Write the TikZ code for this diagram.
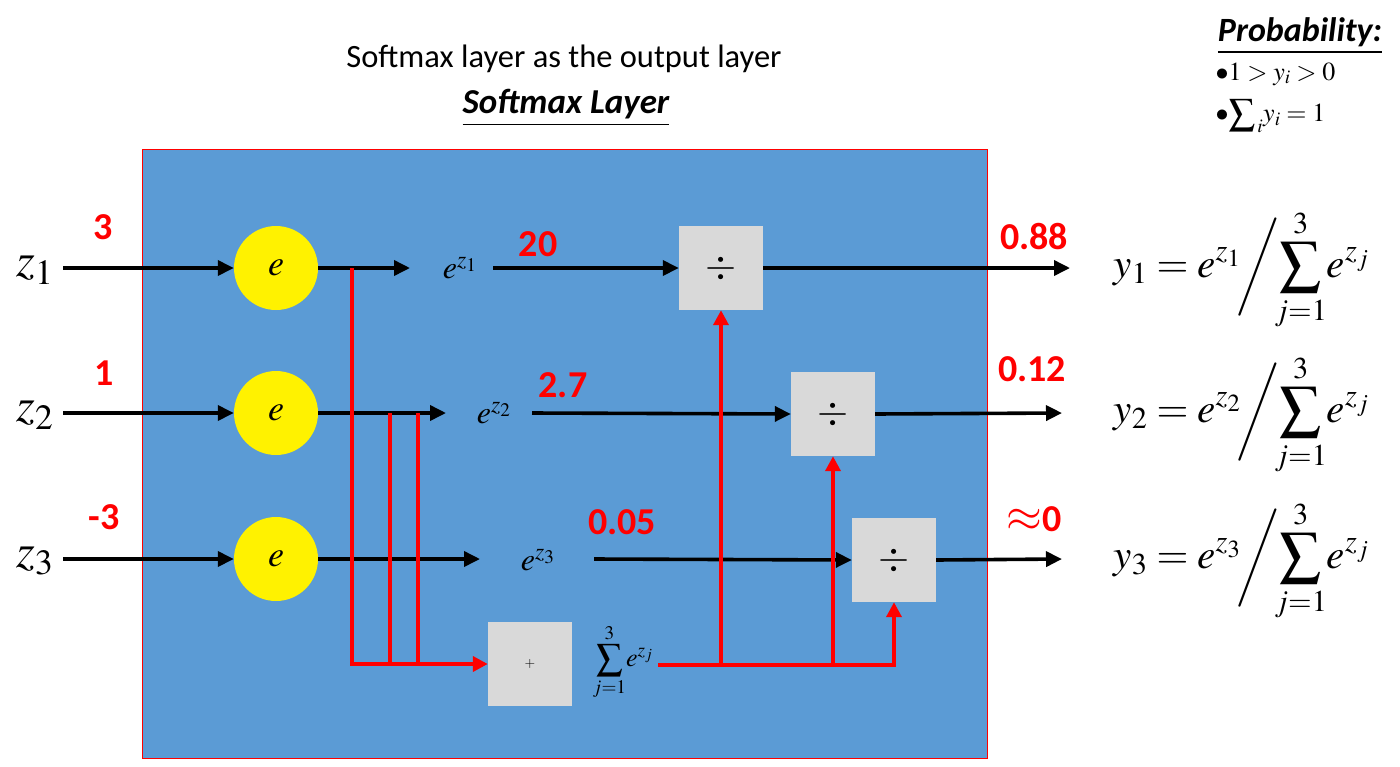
\documentclass[tikz,border=0pt]{standalone}
\usepackage{mathptmx}
\usepackage[no-math]{fontspec}
\newfontfamily\carlitofont{Carlito}
\usetikzlibrary{arrows.meta}
\definecolor{layerblue}{HTML}{5B9BD5}
\definecolor{boxgray}{HTML}{D9D9D9}
\definecolor{pured}{HTML}{FF0000}
\tikzset{
  blk/.style={line width=3.6pt,-{Triangle[length=16pt,width=15pt]}},
  rd/.style={draw=pured,line width=4pt},
  rda/.style={draw=pured,line width=4pt,-{Triangle[length=15pt,width=15pt]},color=pured},
  expnode/.style={circle,fill=yellow,minimum size=84pt,inner sep=0pt,font=\fontsize{36}{38}\selectfont},
  divbox/.style={rectangle,fill=boxgray,minimum size=84pt,inner sep=0pt,font=\fontsize{40}{40}\selectfont},
  num/.style={text=pured,font=\carlitofont\bfseries\fontsize{38}{40}\selectfont},
  zlab/.style={font=\fontsize{48}{50}\selectfont},
  elab/.style={font=\fontsize{32}{34}\selectfont},
  yform/.style={font=\fontsize{41}{44}\selectfont,anchor=west},
}
\begin{document}
\begin{tikzpicture}[x=1pt,y=-1pt]
\useasboundingbox (0,0) rectangle (1400,766);
% layer
\node[draw=pured,line width=1pt,fill=layerblue,minimum width=845pt,minimum height=609pt,inner sep=0pt] (layer) at (564.5,453.5) {};
% titles
\node[font=\carlitofont\fontsize{32.5}{34}\selectfont] (title) at (564,59) {Softmax layer as the output layer};
\node[font=\carlitofont\bfseries\itshape\fontsize{35}{38}\selectfont] (title2) at (566,108) {\underline{Softmax Layer}};
\node[font=\carlitofont\bfseries\itshape\fontsize{34}{36}\selectfont] (prob) at (1300,36) {\underline{Probability:}};
\node[font=\fontsize{26}{26}\selectfont,anchor=west] (b1) at (1212,74) {$\bullet 1>y_i>0$};
\node[font=\fontsize{26}{26}\selectfont,anchor=west] (b2) at (1212,116) {$\bullet {\displaystyle\sum\nolimits_{\,i}} y_i=1$};
% inputs
\node[zlab] (z1) at (35,270) {$z_1$};
\node[zlab] (z2) at (35,415) {$z_2$};
\node[zlab] (z3) at (35,561) {$z_3$};
\coordinate (in1) at (63,268);
\coordinate (in2) at (63,413);
\coordinate (in3) at (63,559);
\node[num] (n1) at (103,227) {3};
\node[num] (n2) at (104,373) {1};
\node[num] (n3) at (104,517) {-3};
% exp circles
\node[expnode] (c1) at (276,268) {$e$};
\node[expnode] (c2) at (276,413) {$e$};
\node[expnode] (c3) at (276,559) {$e$};
\draw[blk] (in1) -- (c1.west);
\draw[blk] (in2) -- (c2.west);
\draw[blk] (in3) -- (c3.west);
% exp outputs
\coordinate (t1) at (410,268);
\coordinate (t2) at (446,413);
\coordinate (t3) at (480,559);
\draw[blk] (c1.east) -- (t1);
\draw[blk] (c2.east) -- (t2);
\draw[blk] (c3.east) -- (t3);
\node[elab] (ez1) at (460,268) {$e^{z_1}$};
\node[elab] (ez2) at (494,413) {$e^{z_2}$};
\node[elab] (ez3) at (538,560) {$e^{z_3}$};
% divide boxes
\node[divbox] (d1) at (721,268) {$\div$};
\node[divbox] (d2) at (833,414) {$\div$};
\node[divbox] (d3) at (894,560) {$\div$};
\coordinate (f1) at (493,268);
\coordinate (f2) at (532,413);
\coordinate (f3) at (594,559);
\draw[blk] (f1) -- (d1.west);
\draw[blk] (f2) -- (d2.west);
\draw[blk] (f3) -- (d3.west);
\node[num] (v1) at (538,244) {20};
\node[num] (v2) at (563,385) {2.7};
\node[num] (v3) at (622,522) {0.05};
% outputs
\coordinate (o1) at (1070,268);
\coordinate (o2) at (1062,413);
\coordinate (o3) at (1062,559);
\draw[blk] (d1.east) -- (o1);
\draw[blk] (d2.east) -- (o2);
\draw[blk] (d3.east) -- (o3);
\node[num] (p1) at (1034,237) {0.88};
\node[num] (p2) at (1032,369) {0.12};
\node[num] (p3) at (1034,519) {{\fontsize{46}{46}\selectfont$\approx$}0};
% sum box
\node[divbox,font=\fontsize{14}{14}\selectfont] (s) at (530,664) {+};
\node[font=\fontsize{26}{28}\selectfont] (sl) at (623,662) {$\displaystyle\sum_{j=1}^{3}\! e^{z_j}$};
% red wiring to sum
\coordinate (j1) at (352,268);
\coordinate (j2) at (390,413);
\coordinate (j3) at (418,413);
\draw[rd] (j2) -- (j2 |- s.west);
\draw[rd] (j3) -- (j3 |- s.west);
\draw[rda] (j1) |- (s.west);
% red wiring from sum
\coordinate (so) at (658,665);
\draw[rda] (so) -| (d3.south);
\draw[rda] (d1.south |- so) -- (d1.south);
\draw[rda] (d2.south |- so) -- (d2.south);
% formulas
\node[yform] (y1) at (1110,270) {$\displaystyle y_1=e^{z_1}\!\bigg/\!\!\sum_{j=1}^{3}\! e^{z_j}$};
\node[yform] (y2) at (1110,415) {$\displaystyle y_2=e^{z_2}\!\bigg/\!\!\sum_{j=1}^{3}\! e^{z_j}$};
\node[yform] (y3) at (1110,561) {$\displaystyle y_3=e^{z_3}\!\bigg/\!\!\sum_{j=1}^{3}\! e^{z_j}$};
\end{tikzpicture}
\end{document}
